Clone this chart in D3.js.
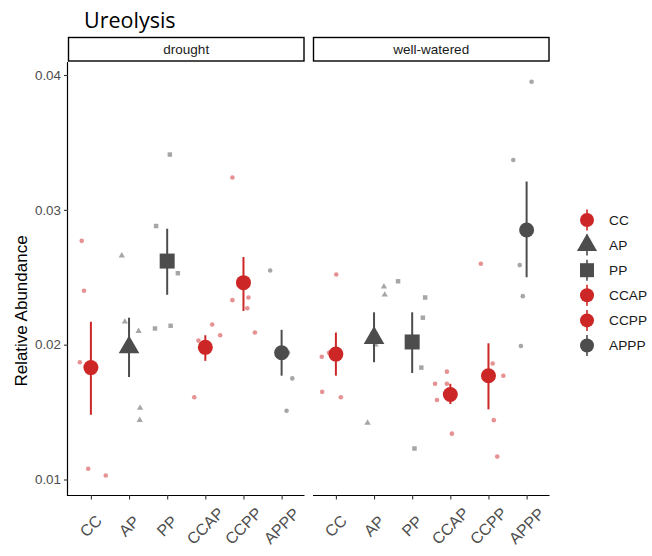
<!DOCTYPE html>
<html><head><meta charset="utf-8">
<script src="https://cdn.jsdelivr.net/npm/d3@7"></script>
<style>body{margin:0;background:#fff} svg{display:block}</style>
</head><body>
<svg id="chart" width="652" height="556"></svg>
<script>
// ---------- data ----------
const groups = ["CC","AP","PP","CCAP","CCPP","APPP"];
const facets = ["drought","well-watered"];
const yTicks = [0.01,0.02,0.03,0.04];
const yTickLabels = ["0.01","0.02","0.03","0.04"];
const groupShape = ["circle","triangle","square","circle","circle","circle"];
const groupColor = ["red","grey","grey","red","red","grey"];

const droughtMean = [0.0183,0.0198,0.0262,0.0198,0.0246,0.0194];
const droughtLow  = [0.0148,0.0176,0.0237,0.0188,0.0225,0.0177];
const droughtHigh = [0.0217,0.0220,0.0286,0.0207,0.0265,0.0211];
const wateredMean = [0.0193,0.0205,0.0202,0.0163,0.0177,0.0285];
const wateredLow  = [0.0177,0.0187,0.0179,0.0156,0.0152,0.0250];
const wateredHigh = [0.0209,0.0224,0.0224,0.0171,0.0201,0.0321];

const droughtRaw = [
  [0.0277,0.0240,0.0187,0.0108,0.0103],
  [0.0266,0.0217,0.0210,0.0153,0.0144],
  [0.0341,0.0288,0.0253,0.0212,0.0214],
  [0.0215,0.0207,0.0203,0.0161],
  [0.0324,0.0233,0.0235,0.0227,0.0209],
  [0.0255,0.0175,0.0151,0.0194]
];
// horizontal jitter, in category units
const droughtJitter = [
  [-0.24,-0.18,-0.29,-0.07,0.39],
  [-0.19,-0.11,0.25,0.29,0.28],
  [0.07,-0.29,0.28,-0.32,0.09],
  [0.18,0.39,-0.18,-0.29],
  [-0.29,-0.29,0.13,0.10,0.30],
  [-0.30,0.28,0.13,0.17]
];
const wateredRaw = [
  [0.0252,0.0191,0.0194,0.0165,0.0161],
  [0.0243,0.0237,0.0200,0.0142],
  [0.0247,0.0235,0.0220,0.0183,0.0123],
  [0.0180,0.0171,0.0171,0.0159,0.0134],
  [0.0260,0.0186,0.0177,0.0144,0.0117],
  [0.0395,0.0337,0.0259,0.0236,0.0199]
];
const wateredJitter = [
  [0.01,-0.37,-0.18,-0.36,0.13],
  [0.26,0.28,0.04,-0.17],
  [-0.37,0.34,0.28,0.24,0.06],
  [-0.09,-0.40,-0.09,-0.35,0.04],
  [-0.20,0.11,0.39,0.14,0.23],
  [0.13,-0.35,-0.18,-0.10,-0.15]
];

// ---------- layout ----------
const colors = {red:"#CD2626", grey:"#4D4D4D"};
const svg = d3.select("#chart");
const panelTop = 62, panelBottom = 495, stripTop = 37.5;
const panelLeft = 68, panelW = 236.5, panelGap = 8.5;

const y = d3.scaleLinear().domain([0.01,0.04]).range([479.5,75]);

const facetData = [
  {name:facets[0], mean:droughtMean, low:droughtLow, high:droughtHigh, raw:droughtRaw, jit:droughtJitter},
  {name:facets[1], mean:wateredMean, low:wateredLow, high:wateredHigh, raw:wateredRaw, jit:wateredJitter}
];

function symbolPath(shape, size){
  const t = shape==="triangle" ? d3.symbolTriangle : shape==="square" ? d3.symbolSquare : d3.symbolCircle;
  return d3.symbol().type(t).size(size)();
}
const bigSize = {circle:Math.PI*7.5*7.5, triangle:185, square:225};
const smallSize = {circle:Math.PI*2.3*2.3, triangle:17, square:20};

// title
svg.append("text").attr("x",84).attr("y",28)
  .attr("font-family","'Open Sans', sans-serif").attr("font-size",21.5)
  .attr("fill","#000").text("Ureolysis");

facetData.forEach((f,i)=>{
  const x0 = panelLeft + i*(panelW+panelGap);
  const x = d3.scalePoint().domain(groups).range([x0, x0+panelW]).padding(0.6);
  const step = x.step();
  const g = svg.append("g");

  // strip
  g.append("rect").attr("x",x0+0.5).attr("y",stripTop).attr("width",panelW-1).attr("height",panelTop-stripTop-1)
    .attr("fill","#fff").attr("stroke","#000").attr("stroke-width",1.4);
  g.append("text").attr("x",x0+panelW/2).attr("y",(stripTop+panelTop)/2)
    .attr("text-anchor","middle").attr("dominant-baseline","central")
    .attr("font-family","'Liberation Sans', Arial, sans-serif").attr("font-size",13.5)
    .attr("fill","#1A1A1A").text(f.name);

  // x axis
  const xAxis = d3.axisBottom(x).tickSize(4.5).tickSizeOuter(0).tickFormat("");
  const xa = g.append("g").attr("transform",`translate(0,${panelBottom})`).call(xAxis);
  xa.select(".domain").attr("d",`M${x0},0.5H${x0+panelW}`).attr("stroke","#000").attr("stroke-width",1.2);
  xa.selectAll(".tick line").attr("stroke","#333").attr("stroke-width",1.1);
  groups.forEach(gname=>{
    g.append("text")
      .attr("transform",`translate(${x(gname)},526) rotate(-45)`)
      .attr("text-anchor","middle").attr("dominant-baseline","central")
      .attr("font-family","'Liberation Sans', Arial, sans-serif").attr("font-size",16)
      .attr("fill","#4D4D4D").text(gname);
  });

  // y axis only on first panel
  if(i===0){
    const yAxis = d3.axisLeft(y).tickValues(yTicks).tickFormat((d,k)=>yTickLabels[k]).tickSize(4).tickSizeOuter(0);
    const ya = g.append("g").attr("transform",`translate(${x0},0)`).call(yAxis);
    ya.select(".domain").attr("d",`M-0.5,${panelTop}V${panelBottom+1}`).attr("stroke","#000").attr("stroke-width",1.2);
    ya.selectAll(".tick line").attr("stroke","#333").attr("stroke-width",1.1);
    ya.selectAll(".tick text").attr("font-family","'Liberation Sans', Arial, sans-serif")
      .attr("font-size",13.4).attr("fill","#4D4D4D").attr("x",-7);
  }

  // raw points
  f.raw.forEach((vals,gi)=>{
    const shape = groupShape[gi];
    vals.forEach((v,k)=>{
      g.append("path").attr("d",symbolPath(shape, smallSize[shape]))
        .attr("transform",`translate(${x(groups[gi]) + f.jit[gi][k]*step},${y(v)})`)
        .attr("fill",colors[groupColor[gi]]).attr("fill-opacity",0.5);
    });
  });

  // error bars + means
  groups.forEach((gname,gi)=>{
    const c = colors[groupColor[gi]];
    g.append("line").attr("x1",x(gname)).attr("x2",x(gname))
      .attr("y1",y(f.high[gi])).attr("y2",y(f.low[gi]))
      .attr("stroke",c).attr("stroke-width",2);
    g.append("path").attr("d",symbolPath(groupShape[gi], bigSize[groupShape[gi]]))
      .attr("transform",`translate(${x(gname)},${y(f.mean[gi])})`)
      .attr("fill",c);
  });
});

// y axis title
svg.append("text").attr("transform","translate(21,311) rotate(-90)")
  .attr("text-anchor","middle").attr("dominant-baseline","central")
  .attr("font-family","'Liberation Sans', Arial, sans-serif").attr("font-size",17)
  .attr("fill","#000").text("Relative Abundance");

// legend
const legend = svg.append("g");
const legY = d3.scalePoint().domain(groups).range([220,345.5]);
const legSize = {circle:Math.PI*7*7, triangle:175, square:196};
groups.forEach((gname,gi)=>{
  const cy = legY(gname), c = colors[groupColor[gi]];
  legend.append("line").attr("x1",587).attr("x2",587).attr("y1",cy-10.5).attr("y2",cy+10.5)
    .attr("stroke",c).attr("stroke-width",1.6);
  legend.append("path").attr("d",symbolPath(groupShape[gi], legSize[groupShape[gi]]))
    .attr("transform",`translate(587,${cy})`).attr("fill",c);
  legend.append("text").attr("x",609).attr("y",cy).attr("dominant-baseline","central")
    .attr("font-family","'Liberation Sans', Arial, sans-serif").attr("font-size",13.7)
    .attr("fill","#1A1A1A").text(gname);
});
</script>
</body></html>
